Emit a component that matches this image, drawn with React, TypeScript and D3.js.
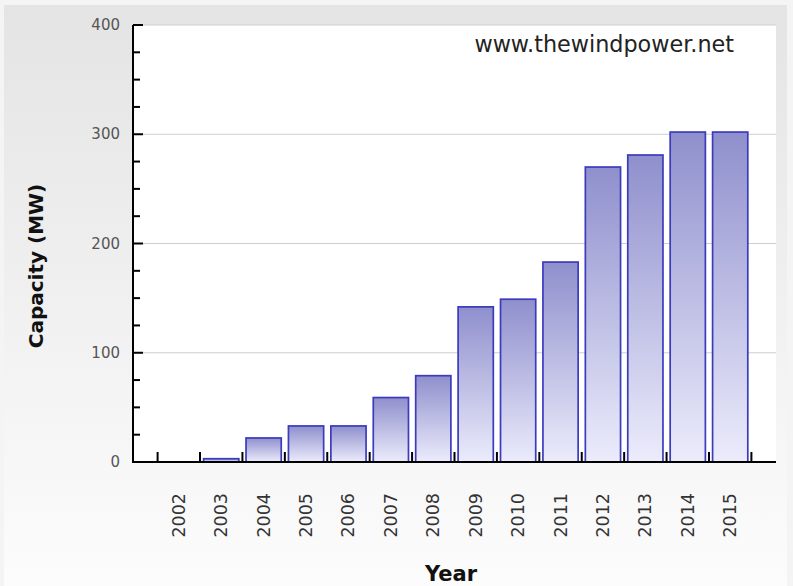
import React from "react";
import * as d3 from "d3";

const years = ["2002","2003","2004","2005","2006","2007","2008","2009","2010","2011","2012","2013","2014","2015"];
const capacity = [0, 3, 22, 33, 33, 59, 79, 142, 149, 183, 270, 281, 302, 302];
const yTicks = [0, 100, 200, 300, 400];
const yMinorTicks = d3.range(0, 401, 25);
const gridValues = [100, 200, 300, 400];
const watermark = "www.thewindpower.net";
const xTitle = "Year";
const yTitle = "Capacity (MW)";

const W = 793, H = 586;
const plot = { left: 133, right: 776, top: 25, bottom: 462 };

export default function App() {
  const x = d3.scaleBand<string>().domain(years).range([plot.left, plot.right]).paddingInner(0).paddingOuter(0.58);
  const y = d3.scaleLinear().domain([0, 400]).range([plot.bottom, plot.top]);
  const step = x.step();
  const barInset = step * 0.085;
  const barW = step - 2 * barInset;
  const boundaries = years.map((yr) => x(yr) as number).concat([(x(years[years.length - 1]) as number) + step]);

  return (
    <svg width={W} height={H} style={{ position: "absolute", left: 0, top: 0, display: "block" }} fontFamily="'DejaVu Sans', Verdana, sans-serif">
      <defs>
        <linearGradient id="bg" x1="0" y1="0" x2="0" y2="1">
          <stop offset="0" stopColor="#e4e4e4" />
          <stop offset="1" stopColor="#fcfcfc" />
        </linearGradient>
        <linearGradient id="barFill" x1="0" y1="0" x2="0" y2="1">
          <stop offset="0" stopColor="#8f8fcd" />
          <stop offset="1" stopColor="#ececfc" />
        </linearGradient>
      </defs>
      <rect x={0} y={0} width={W} height={H} fill="#f4f4f4" />
      <rect x={4} y={5} width={783} height={H - 5} fill="url(#bg)" />
      <rect x={plot.left} y={plot.top} width={plot.right - plot.left} height={plot.bottom - plot.top} fill="#ffffff" />

      {gridValues.map((v) => (
        <line key={"g" + v} x1={plot.left} x2={plot.right} y1={y(v)} y2={y(v)} stroke="#cfcfcf" strokeWidth={1.2} />
      ))}

      {years.map((yr, i) => {
        const v = capacity[i];
        if (v <= 0) return null;
        const bx = (x(yr) as number) + barInset;
        return (
          <rect key={yr} x={bx} y={y(v)} width={barW} height={y(0) - y(v)} fill="url(#barFill)" stroke="#3b3bbd" strokeWidth={1.7} />
        );
      })}

      <text x={734} y={52} textAnchor="end" fontSize={22.3} fill="#222">{watermark}</text>

      {/* y axis */}
      <line x1={plot.left} x2={plot.left} y1={plot.top} y2={plot.bottom + 1} stroke="#000" strokeWidth={2} />
      {yMinorTicks.map((v) => (
        <line key={"m" + v} x1={plot.left} x2={plot.left + (v % 100 === 0 ? 10 : 7)} y1={y(v)} y2={y(v)} stroke="#000" strokeWidth={2} />
      ))}
      {yTicks.map((v) => (
        <text key={"yl" + v} x={120} y={y(v)} textAnchor="end" dominantBaseline="central" fontSize={15} fill="#555">{v}</text>
      ))}

      {/* x axis */}
      <line x1={plot.left} x2={plot.right} y1={plot.bottom} y2={plot.bottom} stroke="#000" strokeWidth={2} />
      {boundaries.map((bx, i) => (
        <line key={"xt" + i} x1={bx} x2={bx} y1={plot.bottom} y2={plot.bottom - 10} stroke="#000" strokeWidth={2} />
      ))}
      {years.map((yr) => {
        const cx = (x(yr) as number) + step / 2;
        return (
          <text key={"xl" + yr} transform={`translate(${cx},493) rotate(-90)`} textAnchor="end" dominantBaseline="central" fontSize={17.5} fill="#333">{yr}</text>
        );
      })}

      <text x={451} y={581} textAnchor="middle" fontSize={21} fontWeight="bold" fill="#111">{xTitle}</text>
      <text transform={`translate(${43},266) rotate(-90)`} textAnchor="middle" fontSize={20} fontWeight="bold" fill="#111">{yTitle}</text>
    </svg>
  );
}
